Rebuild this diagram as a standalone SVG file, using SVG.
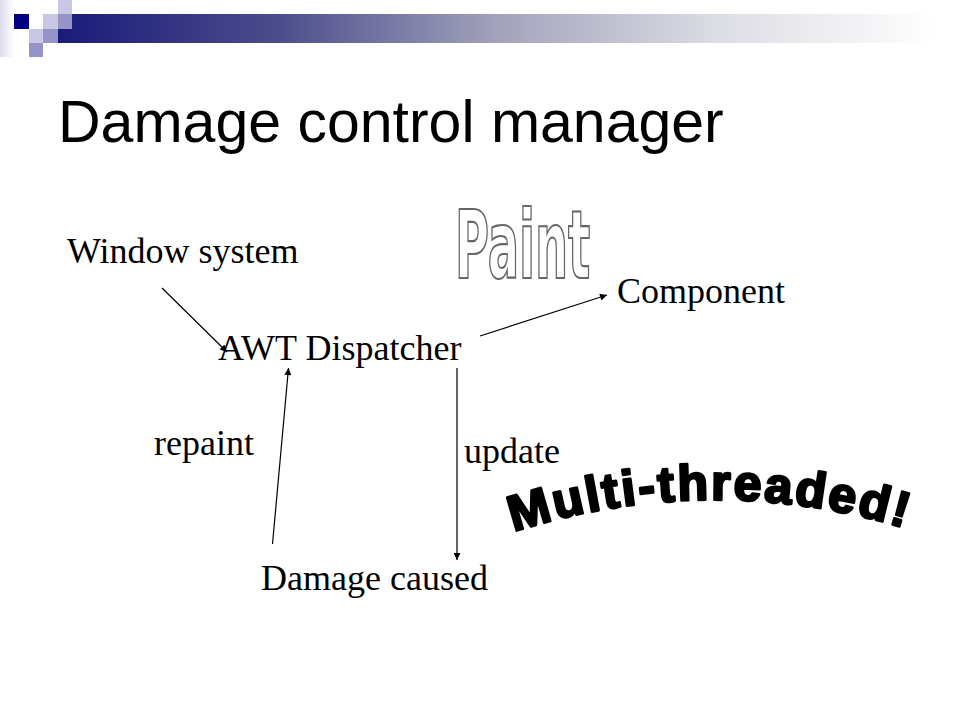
<svg xmlns="http://www.w3.org/2000/svg" width="960" height="720" viewBox="0 0 960 720">
  <defs>
    <linearGradient id="barGrad" x1="58" y1="0" x2="935" y2="0" gradientUnits="userSpaceOnUse">
      <stop offset="0" stop-color="#1a1a7a"/>
      <stop offset="0.25" stop-color="#4c4c8c"/>
      <stop offset="0.5" stop-color="#a2a2bc"/>
      <stop offset="0.75" stop-color="#dcdce4"/>
      <stop offset="1" stop-color="#ffffff"/>
    </linearGradient>
    <linearGradient id="stripGrad" x1="0" y1="0" x2="1" y2="0">
      <stop offset="0" stop-color="#dcdcee"/>
      <stop offset="1" stop-color="#ffffff"/>
    </linearGradient>
    <marker id="arrow" viewBox="0 0 10 10" refX="10" refY="5" markerWidth="9" markerHeight="7" markerUnits="userSpaceOnUse" orient="auto">
      <path d="M0,0 L10,5 L0,10 z" fill="#000"/>
    </marker>
    <path id="arch" d="M510,533 A649,649 0 0 1 920,533"/>
  </defs>
  <style>
    .lbl { font-family: "Liberation Serif", "Times New Roman", serif; font-size: 36px; fill: #000; }
    .title { font-family: "Liberation Sans", Arial, sans-serif; font-size: 59px; fill: #000; }
    .conn { stroke: #000; stroke-width: 1.2; fill: none; marker-end: url(#arrow); }
    .light { fill: #c8c8e4; }
    .mid { fill: #9494c8; }
    .dark { fill: #000080; }
  </style>
  <rect width="960" height="720" fill="#fff"/>

  <g id="header">
    <rect x="0" y="0" width="14" height="57" fill="url(#stripGrad)"/>
    <rect x="58" y="14" width="877" height="29" fill="url(#barGrad)"/>
    <rect class="dark" x="14" y="14" width="15" height="15"/>
    <rect class="light" x="43" y="14" width="15" height="15"/>
    <rect class="light" x="58" y="0" width="14" height="14"/>
    <rect class="mid" x="58" y="14" width="14" height="15"/>
    <rect class="light" x="29" y="29" width="14" height="14"/>
    <rect class="mid" x="43" y="29" width="15" height="14"/>
    <rect class="mid" x="29" y="43" width="14" height="14"/>
  </g>

  <g id="title">
    <text class="title" x="58" y="142">Damage control manager</text>
  </g>

  <g id="node-window-system">
    <text class="lbl" x="67" y="263">Window system</text>
  </g>
  <g id="node-awt-dispatcher">
    <text class="lbl" x="218" y="360">AWT Dispatcher</text>
  </g>
  <g id="node-component">
    <text class="lbl" x="617" y="303">Component</text>
  </g>
  <g id="node-damage-caused">
    <text class="lbl" x="261" y="590">Damage caused</text>
  </g>

  <g id="connectors">
    <line class="conn" x1="162" y1="288" x2="227" y2="352"/>
    <line class="conn" x1="480" y1="336" x2="607" y2="295"/>
    <line class="conn" x1="272.5" y1="544" x2="288.5" y2="368"/>
    <line class="conn" x1="457" y1="368" x2="457" y2="560"/>
    <text class="lbl" x="154" y="455">repaint</text>
    <text class="lbl" x="464" y="463">update</text>
  </g>

  <g id="wordart-paint">
    <text x="0" y="0" transform="translate(455,278) scale(0.55,1)" font-family="'DejaVu Sans Condensed', 'DejaVu Sans', sans-serif" font-weight="bold" font-size="94" fill="#fff" stroke="#666" stroke-width="2.2">Paint</text>
  </g>

  <g id="wordart-multithreaded">
    <text font-family="'Liberation Sans', Arial, sans-serif" font-weight="bold" font-size="50" letter-spacing="2.5" fill="#000" stroke="#000" stroke-width="2.6" stroke-linejoin="round"><textPath href="#arch" startOffset="4">Multi-threaded!</textPath></text>
  </g>
</svg>
